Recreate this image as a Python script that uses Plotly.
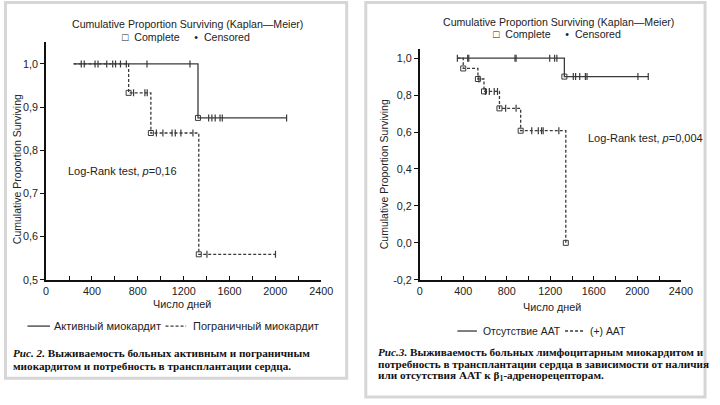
import plotly.graph_objects as go
import numpy as np

# ---------------- data ----------------
# Left chart (Fig. 2): active vs borderline myocarditis
active_start = 240
active_event_t = [1325]
active_event_s = [0.875]
active_cens_t = [307, 333, 427, 453, 529, 581, 606, 649, 700, 880, 1255,
                 1418, 1446, 1475, 1517, 1537, 2098]
active_end = 2098

border_start = 240
border_event_t = [720, 914, 1332]
border_event_s = [0.933, 0.840, 0.559]
border_cens_t = [763, 862, 882, 962, 1019, 1099, 1127, 1176, 1281, 1403, 2001]
border_end = 2001

# Right chart (Fig. 3): no AAT vs (+) AAT
noaat_start = 345
noaat_event_t = [1329]
noaat_event_s = [0.9]
noaat_cens_t = [440, 450, 875, 885, 1194, 1239, 1260,
                1411, 1432, 1470, 1522, 1537, 2005, 2100]
noaat_end = 2100

aat_start = 345
aat_event_t = [399, 534, 590, 732, 927, 1342]
aat_event_s = [0.944, 0.887, 0.820, 0.728, 0.607, 0.0]
aat_cens_t = [345, 543, 603, 639, 684, 714, 789, 885, 1029, 1089, 1119, 1134, 1278]
aat_end = 1342

x_tickvals = [0, 400, 800, 1200, 1600, 2000, 2400]
x_ticktext = ["0", "400", "800", "1200", "1600", "2000", "2400"]
yl_tickvals = [0.5, 0.6, 0.7, 0.8, 0.9, 1.0]
yl_ticktext = ["0,5", "0,6", "0,7", "0,8", "0,9", "1,0"]
yr_tickvals = [-0.2, 0.0, 0.2, 0.4, 0.6, 0.8, 1.0]
yr_ticktext = ["-0,2", "0,0", "0,2", "0,4", "0,6", "0,8", "1,0"]

title_txt = "Cumulative Proportion Surviving (Kaplan\u2014Meier)"
key_txt = "\u25a1  Complete     \u2022  Censored"
ytitle_txt = "Cumulative Proportion Surviving"
xtitle_txt = "Число дней"
left_logrank = "Log-Rank test, <i>p</i>=0,16"
right_logrank = "Log-Rank test, <i>p</i>=0,004"
left_series = ["Активный миокардит", "Пограничный миокардит"]
right_series = ["Отсутствие ААТ", "(+) ААТ"]
left_caption = ["<b><i>Рис. 2.</i> Выживаемость больных активным и пограничным</b>",
                "<b>миокардитом и потребность в трансплантации сердца.</b>"]
right_caption = ["<b><i>Рис.3.</i> Выживаемость больных лимфоцитарным миокардитом и</b>",
                 "<b>потребность в трансплантации сердца в зависимости от наличия</b>",
                 "<b>или отсутствия ААТ к β<sub>1</sub>-адренорецепторам.</b>"]

# ---------------- helpers ----------------
W, H = 720, 405
def PX(x):
    return x / W
def PY(y):
    return 1 - y / H

LINE_COL = "#3a3a3a"
SANS = "Liberation Sans, Arial, sans-serif"
SERIF = "Liberation Serif, Times New Roman, serif"

def level_at(t, start, ev_t, ev_s):
    s = 1.0
    for et, es in zip(ev_t, ev_s):
        if t >= et:
            s = es
    return s

def km_traces(start, ev_t, ev_s, cens_t, end, dash, xa, ya):
    xs = [start] + list(ev_t) + [end]
    ys = [1.0] + list(ev_s) + [ev_s[-1]]
    tr = []
    tr.append(go.Scatter(x=xs, y=ys, mode="lines", line_shape="hv",
                         line=dict(color=LINE_COL, width=1.3, dash=dash),
                         xaxis=xa, yaxis=ya, showlegend=False, hoverinfo="skip"))
    cy = [level_at(t, start, ev_t, ev_s) for t in cens_t]
    tr.append(go.Scatter(x=cens_t, y=cy, mode="markers",
                         marker=dict(symbol="line-ns", size=5,
                                     line=dict(color=LINE_COL, width=1.2)),
                         xaxis=xa, yaxis=ya, showlegend=False, hoverinfo="skip"))
    tr.append(go.Scatter(x=ev_t, y=ev_s, mode="markers",
                         marker=dict(symbol="square-open", size=5, color=LINE_COL,
                                     line=dict(color=LINE_COL, width=1)),
                         xaxis=xa, yaxis=ya, showlegend=False, hoverinfo="skip"))
    return tr

fig = go.Figure()
for t in km_traces(active_start, active_event_t, active_event_s, active_cens_t, active_end, "solid", "x", "y"):
    fig.add_trace(t)
for t in km_traces(border_start, border_event_t, border_event_s, border_cens_t, border_end, "3px,2px", "x", "y"):
    fig.add_trace(t)
for t in km_traces(noaat_start, noaat_event_t, noaat_event_s, noaat_cens_t, noaat_end, "solid", "x2", "y2"):
    fig.add_trace(t)
for t in km_traces(aat_start, aat_event_t, aat_event_s, aat_cens_t, aat_end, "3px,2px", "x2", "y2"):
    fig.add_trace(t)

axis_common = dict(showline=True, linecolor="#111", linewidth=1.6, showgrid=False,
                   zeroline=False, tickfont=dict(family=SANS, size=10.8, color="#222"))

fig.update_layout(
    width=W, height=H, margin=dict(l=0, r=0, t=0, b=0),
    paper_bgcolor="white", plot_bgcolor="white", showlegend=False,
    xaxis=dict(domain=[PX(44), PX(325)], range=[0, 2400], anchor="y",
               tickvals=x_tickvals, ticktext=x_ticktext, ticks="inside", ticklen=4,
               tickcolor="#111", minor=dict(dtick=200, tick0=0, ticks="inside", ticklen=4, tickcolor="#111"),
               **axis_common),
    yaxis=dict(domain=[PY(284), PY(43)], range=[0.5, 1.05], anchor="x",
               tickvals=yl_tickvals, ticktext=yl_ticktext, ticks="outside", ticklen=4,
               tickcolor="#111", **axis_common),
    xaxis2=dict(domain=[PX(425.7), PX(692.3)], range=[0, 2400], anchor="y2",
                tickvals=x_tickvals, ticktext=x_ticktext, ticks="inside", ticklen=4,
                tickcolor="#111", minor=dict(dtick=200, tick0=0, ticks="inside", ticklen=4, tickcolor="#111"),
                **axis_common),
    yaxis2=dict(domain=[PY(284), PY(50)], range=[-0.2, 1.048], anchor="x2",
                tickvals=yr_tickvals, ticktext=yr_ticktext, ticks="outside", ticklen=4,
                tickcolor="#111", **axis_common),
)

shapes = []
# panel borders
shapes.append(dict(type="rect", xref="paper", yref="paper", x0=PX(2.5), x1=PX(351), y0=PY(384), y1=PY(2.5),
                   line=dict(color="#d6d6d6", width=3), layer="below"))
shapes.append(dict(type="rect", xref="paper", yref="paper", x0=PX(370.5), x1=PX(717), y0=PY(403), y1=PY(2.5),
                   line=dict(color="#d6d6d6", width=3), layer="below"))
# legend line samples
shapes.append(dict(type="line", xref="paper", yref="paper", x0=PX(25), x1=PX(48), y0=PY(331), y1=PY(331),
                   line=dict(color=LINE_COL, width=1.3)))
shapes.append(dict(type="line", xref="paper", yref="paper", x0=PX(166), x1=PX(187), y0=PY(331), y1=PY(331),
                   line=dict(color=LINE_COL, width=1.3, dash="3px,2px")))
shapes.append(dict(type="line", xref="paper", yref="paper", x0=PX(464), x1=PX(484), y0=PY(336), y1=PY(336),
                   line=dict(color=LINE_COL, width=1.3)))
shapes.append(dict(type="line", xref="paper", yref="paper", x0=PX(574), x1=PX(593), y0=PY(336), y1=PY(336),
                   line=dict(color=LINE_COL, width=1.3, dash="3px,2px")))
fig.update_layout(shapes=shapes)

ann = []
def A(text, x, y, size=10.5, xanchor="center", family=SANS, angle=0, color="#222"):
    ann.append(dict(text=text, x=PX(x), y=PY(y), xref="paper", yref="paper", showarrow=False,
                    xanchor=xanchor, yanchor="middle", textangle=angle, align="left",
                    font=dict(family=family, size=size, color=color)))

# left panel
A(title_txt, 188, 24, size=10.6)
A(key_txt, 187, 38, size=10.6)
A(ytitle_txt, 15, 172, size=10.5, angle=-90)
A(xtitle_txt, 183, 309, size=10.8)
A(left_logrank, 64, 174, size=11, xanchor="left")
A(left_series[0], 50, 331, size=11, xanchor="left")
A(left_series[1], 192, 331, size=11, xanchor="left")
A(left_caption[0], 8, 358, size=11.2, xanchor="left", family=SERIF, color="#111")
A(left_caption[1], 8, 371, size=11.2, xanchor="left", family=SERIF, color="#111")

# right panel
A(title_txt, 567, 22, size=10.6)
A(key_txt, 566, 35, size=10.6)
A(ytitle_txt, 390, 177, size=10.5, angle=-90)
A(xtitle_txt, 561, 312, size=10.8)
A(right_logrank, 595, 140, size=11, xanchor="left")
A(right_series[0], 488, 336, size=10.4, xanchor="left")
A(right_series[1], 597, 336, size=10.4, xanchor="left")
A(right_caption[0], 381, 357, size=11.2, xanchor="left", family=SERIF, color="#111")
A(right_caption[1], 381, 369.5, size=11.2, xanchor="left", family=SERIF, color="#111")
A(right_caption[2], 381, 382, size=11.2, xanchor="left", family=SERIF, color="#111")
fig.update_layout(annotations=ann)

fig.write_html("out.html", config={"displayModeBar": False},
               post_script="document.body.style.margin='0';")
